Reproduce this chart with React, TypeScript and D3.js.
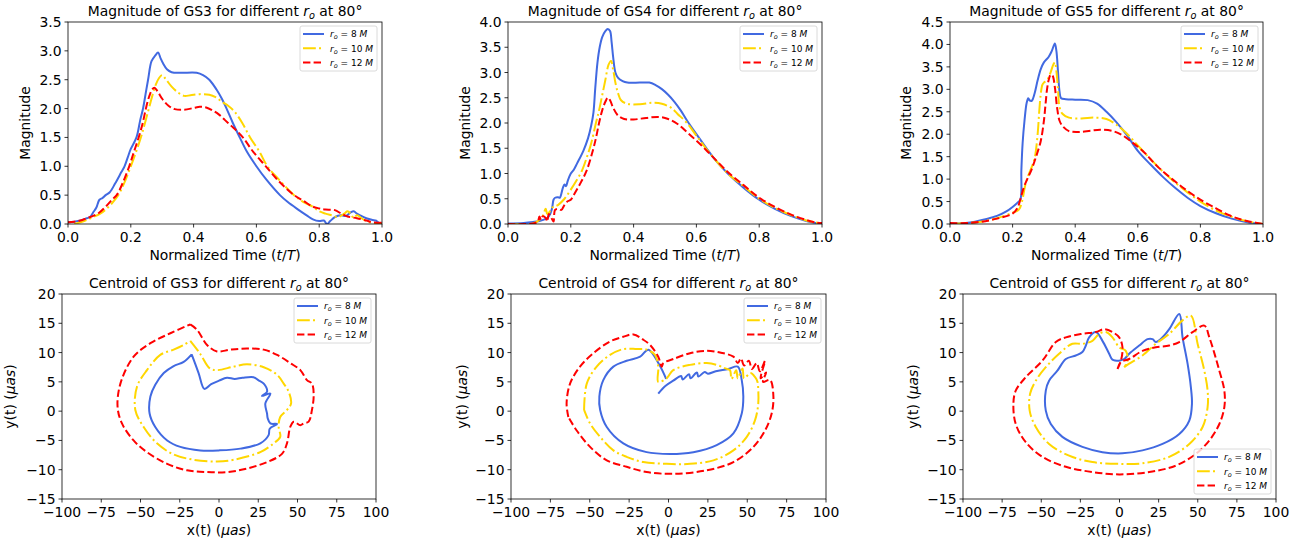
import React from 'react';
import * as d3 from 'd3';

type Pt = [number, number];

// ---------- ticks ----------
const timeTicks = [0, 0.2, 0.4, 0.6, 0.8, 1.0];
const gs3MagTicks = [0, 0.5, 1.0, 1.5, 2.0, 2.5, 3.0, 3.5];
const gs4MagTicks = [0, 0.5, 1.0, 1.5, 2.0, 2.5, 3.0, 3.5, 4.0];
const gs5MagTicks = [0, 0.5, 1.0, 1.5, 2.0, 2.5, 3.0, 3.5, 4.0, 4.5];
const centroidXTicks = [-100, -75, -50, -25, 0, 25, 50, 75, 100];
const centroidYTicks = [-15, -10, -5, 0, 5, 10, 15, 20];
const radii = ['8', '10', '12'];

// ---------- magnitude series [t/T, magnitude] ----------
const gs3Mag8: Pt[] = [[0,0.03],[0.02,0.04],[0.04,0.06],[0.06,0.1],[0.07,0.12],[0.08,0.2],[0.09,0.28],[0.1,0.42],[0.11,0.45],[0.12,0.5],[0.133,0.55],[0.15,0.7],[0.17,0.9],[0.18,1.0],[0.19,1.15],[0.2,1.3],[0.218,1.5],[0.23,1.8],[0.239,2.0],[0.247,2.25],[0.255,2.5],[0.266,2.82],[0.278,2.92],[0.287,2.97],[0.295,2.87],[0.303,2.78],[0.315,2.68],[0.33,2.63],[0.36,2.62],[0.41,2.62],[0.43,2.58],[0.45,2.5],[0.473,2.33],[0.49,2.17],[0.505,2.0],[0.525,1.75],[0.547,1.5],[0.57,1.25],[0.6,1.0],[0.63,0.78],[0.675,0.5],[0.7,0.38],[0.733,0.25],[0.76,0.15],[0.78,0.08],[0.8,0.05],[0.815,0.06],[0.825,0.0],[0.835,0.05],[0.85,0.12],[0.87,0.15],[0.885,0.14],[0.9,0.2],[0.91,0.22],[0.92,0.18],[0.93,0.15],[0.95,0.1],[0.97,0.07],[0.98,0.06],[0.99,0.02],[1.0,0.0]];
const gs3Mag10: Pt[] = [[0.02,0.0],[0.04,0.03],[0.06,0.07],[0.08,0.12],[0.1,0.17],[0.12,0.25],[0.14,0.36],[0.16,0.5],[0.18,0.72],[0.2,1.0],[0.22,1.3],[0.235,1.55],[0.25,1.85],[0.26,2.05],[0.27,2.25],[0.28,2.42],[0.29,2.53],[0.3,2.58],[0.31,2.52],[0.33,2.38],[0.35,2.28],[0.37,2.22],[0.39,2.23],[0.42,2.25],[0.45,2.24],[0.47,2.2],[0.49,2.12],[0.51,2.05],[0.53,1.95],[0.555,1.75],[0.58,1.5],[0.61,1.25],[0.635,1.0],[0.67,0.78],[0.72,0.5],[0.75,0.38],[0.78,0.3],[0.8,0.22],[0.82,0.18],[0.84,0.15],[0.86,0.12],[0.88,0.18],[0.89,0.22],[0.9,0.18],[0.91,0.1],[0.92,0.15],[0.935,0.1],[0.95,0.05],[0.97,0.02],[1.0,0.0]];
const gs3Mag12: Pt[] = [[0,0.03],[0.02,0.04],[0.04,0.06],[0.06,0.1],[0.08,0.14],[0.1,0.2],[0.12,0.3],[0.14,0.42],[0.155,0.5],[0.175,0.72],[0.195,1.0],[0.21,1.25],[0.225,1.5],[0.238,1.75],[0.248,2.0],[0.258,2.2],[0.268,2.33],[0.275,2.36],[0.285,2.3],[0.3,2.17],[0.32,2.05],[0.34,1.99],[0.37,1.98],[0.4,2.01],[0.42,2.03],[0.44,2.02],[0.46,1.97],[0.48,1.9],[0.5,1.8],[0.52,1.7],[0.54,1.6],[0.56,1.48],[0.59,1.25],[0.63,1.0],[0.67,0.75],[0.72,0.5],[0.75,0.4],[0.78,0.3],[0.8,0.27],[0.82,0.25],[0.85,0.24],[0.87,0.18],[0.89,0.13],[0.92,0.1],[0.95,0.06],[0.97,0.03],[1.0,0.02]];

const gs4Mag8: Pt[] = [[0,0.01],[0.05,0.02],[0.08,0.04],[0.1,0.06],[0.12,0.1],[0.13,0.15],[0.14,0.3],[0.145,0.48],[0.15,0.52],[0.16,0.53],[0.165,0.52],[0.175,0.72],[0.18,0.78],[0.185,0.75],[0.19,0.85],[0.2,1.0],[0.21,1.08],[0.22,1.2],[0.24,1.45],[0.255,1.7],[0.265,1.95],[0.272,2.2],[0.278,2.7],[0.285,3.2],[0.292,3.5],[0.3,3.7],[0.31,3.82],[0.318,3.86],[0.325,3.82],[0.33,3.6],[0.335,3.3],[0.342,3.0],[0.35,2.9],[0.365,2.83],[0.38,2.8],[0.42,2.8],[0.45,2.8],[0.47,2.75],[0.49,2.67],[0.51,2.56],[0.53,2.42],[0.55,2.25],[0.57,2.05],[0.6,1.78],[0.63,1.52],[0.66,1.27],[0.7,1.0],[0.75,0.72],[0.8,0.48],[0.85,0.3],[0.9,0.16],[0.95,0.06],[0.98,0.02],[1.0,0.0]];
const gs4Mag10: Pt[] = [[0,0],[0.08,0.01],[0.1,0.08],[0.11,0.15],[0.12,0.3],[0.125,0.2],[0.13,0.22],[0.14,0.32],[0.15,0.35],[0.16,0.38],[0.18,0.5],[0.2,0.68],[0.22,0.88],[0.235,1.05],[0.25,1.3],[0.265,1.6],[0.28,2.0],[0.29,2.25],[0.3,2.55],[0.31,2.85],[0.32,3.15],[0.328,3.23],[0.335,3.05],[0.342,2.8],[0.35,2.6],[0.36,2.45],[0.38,2.38],[0.42,2.37],[0.46,2.4],[0.49,2.38],[0.52,2.3],[0.54,2.18],[0.57,2.0],[0.6,1.75],[0.63,1.5],[0.66,1.27],[0.7,1.0],[0.75,0.75],[0.8,0.5],[0.85,0.32],[0.9,0.18],[0.95,0.07],[0.98,0.03],[1.0,0.0]];
const gs4Mag12: Pt[] = [[0,0],[0.08,0.01],[0.095,0.05],[0.1,0.15],[0.105,0.08],[0.11,0.15],[0.12,0.12],[0.125,0.05],[0.13,0.2],[0.14,0.1],[0.145,0.05],[0.15,0.28],[0.16,0.3],[0.17,0.28],[0.18,0.38],[0.19,0.45],[0.2,0.48],[0.21,0.58],[0.23,0.8],[0.25,1.05],[0.27,1.45],[0.28,1.7],[0.29,2.0],[0.3,2.25],[0.31,2.42],[0.318,2.5],[0.325,2.45],[0.335,2.3],[0.35,2.15],[0.37,2.08],[0.4,2.07],[0.44,2.1],[0.48,2.12],[0.51,2.08],[0.54,1.98],[0.57,1.82],[0.6,1.65],[0.63,1.47],[0.66,1.28],[0.7,1.03],[0.75,0.77],[0.8,0.52],[0.85,0.34],[0.9,0.19],[0.95,0.08],[0.98,0.03],[1.0,0.02]];

const gs5Mag8: Pt[] = [[0,0.01],[0.05,0.02],[0.08,0.05],[0.11,0.1],[0.15,0.18],[0.18,0.28],[0.2,0.38],[0.215,0.47],[0.225,0.55],[0.228,1.2],[0.232,1.8],[0.238,2.3],[0.245,2.7],[0.25,2.8],[0.255,2.75],[0.262,2.75],[0.27,2.9],[0.28,3.2],[0.29,3.45],[0.3,3.6],[0.315,3.72],[0.325,3.85],[0.335,4.02],[0.34,3.85],[0.345,3.4],[0.35,2.95],[0.355,2.8],[0.37,2.78],[0.4,2.77],[0.44,2.76],[0.47,2.68],[0.5,2.5],[0.53,2.28],[0.565,1.98],[0.6,1.63],[0.64,1.33],[0.68,1.05],[0.72,0.8],[0.76,0.58],[0.8,0.4],[0.85,0.24],[0.9,0.12],[0.95,0.04],[1.0,0.0]];
const gs5Mag10: Pt[] = [[0,0],[0.05,0.02],[0.1,0.05],[0.15,0.13],[0.2,0.25],[0.22,0.32],[0.23,0.5],[0.24,0.85],[0.25,1.08],[0.26,1.25],[0.27,1.45],[0.28,2.0],[0.285,2.5],[0.29,2.9],[0.295,3.1],[0.3,3.15],[0.31,3.2],[0.32,3.35],[0.33,3.55],[0.335,3.6],[0.34,3.4],[0.345,3.0],[0.35,2.6],[0.36,2.45],[0.38,2.37],[0.42,2.35],[0.46,2.37],[0.5,2.34],[0.53,2.22],[0.56,2.05],[0.6,1.75],[0.64,1.45],[0.68,1.17],[0.72,0.92],[0.76,0.7],[0.8,0.5],[0.85,0.3],[0.9,0.16],[0.95,0.06],[0.98,0.02],[1.0,0.0]];
const gs5Mag12: Pt[] = [[0,0.02],[0.05,0.02],[0.1,0.05],[0.15,0.12],[0.2,0.23],[0.215,0.35],[0.225,0.55],[0.235,0.8],[0.25,1.05],[0.26,1.2],[0.275,1.5],[0.29,1.85],[0.3,2.3],[0.305,2.65],[0.31,3.0],[0.315,3.2],[0.322,3.33],[0.328,3.3],[0.335,3.05],[0.342,2.6],[0.35,2.3],[0.36,2.18],[0.38,2.07],[0.41,2.05],[0.45,2.08],[0.48,2.1],[0.52,2.07],[0.55,1.98],[0.58,1.83],[0.62,1.6],[0.66,1.3],[0.71,1.0],[0.76,0.73],[0.81,0.5],[0.85,0.35],[0.89,0.2],[0.93,0.1],[0.96,0.05],[1.0,0.0]];

// ---------- centroid tracks [x µas, y µas] ----------
const gs3Cen8: Pt[] = [[-17.4,9.7],[-13,6.5],[-9.3,3.8],[-5,4.6],[0,5.2],[5.1,5.7],[10,5.5],[15,5.7],[22,5.8],[25,5.3],[28.5,4.7],[30.6,3.3],[27.4,2.6],[32.7,3],[29.5,1.3],[30.6,-0.4],[31,-1.2],[32.7,-2.1],[37,-2.2],[32.3,-3],[31.6,-4.1],[26.3,-5.5],[13.6,-6.4],[0,-6.7],[-11.9,-6.7],[-24.6,-6.1],[-33,-5],[-40.6,-2.7],[-44.2,-0.4],[-43.7,2.5],[-40.6,4.5],[-35.2,6.5],[-28.9,7.7],[-22.5,8.4],[-17.4,9.7]];
const gs3Cen10: Pt[] = [[-18.3,12.0],[-12,9.8],[-5.9,7.3],[-1.3,7.0],[9.3,7.6],[17.8,8.0],[28.5,7.5],[37,6.2],[41.2,4.7],[44.4,3.3],[45.9,1.3],[43.3,0.2],[39,-1.0],[38,-2.7],[39,-4.4],[34.8,-5.5],[26.3,-7],[9.3,-8.3],[-1.3,-8.6],[-16.1,-8.3],[-28.9,-7.4],[-39.5,-5.5],[-48,-2.7],[-53.3,0.2],[-52.2,4.2],[-45.9,7.0],[-37.4,9.6],[-28.9,10.5],[-22.5,11.3],[-18.3,12.0]];
const gs3Cen12: Pt[] = [[-18.3,14.8],[-14,13.9],[-7.6,11.3],[-1.3,10.2],[7.2,10.5],[17.8,10.7],[28.5,10.5],[37,9.6],[45.4,8.2],[51.8,7.0],[56,5.3],[59.2,4.7],[60.3,2.7],[59.2,0.2],[57.1,-1.8],[53.9,-2.1],[51.8,-2.4],[47.6,-1.8],[45.4,-2.7],[43.3,-5.5],[40.1,-7.3],[30.6,-8.7],[17.8,-9.8],[5.1,-10.4],[-7.6,-10.4],[-20.4,-10.1],[-33,-9],[-45.9,-7],[-54.4,-5],[-61.8,-2.1],[-64.6,0.7],[-62.8,4.7],[-54.4,9.3],[-43.7,11.6],[-31,13.3],[-18.3,14.8]];

const gs4Cen8: Pt[] = [[-6.5,3.0],[-2,4.3],[3,5.2],[8,6.0],[9,5.4],[13,6.3],[14,5.6],[18,6.6],[19,5.9],[23,6.7],[25,6.4],[30,6.8],[38,7.2],[44,7.6],[46.5,5.3],[47.5,2.5],[46.5,-0.4],[41.2,-3.8],[30.6,-5.8],[15.8,-7.0],[1,-7.3],[-13.9,-7.0],[-28.7,-5.5],[-39.2,-2.7],[-43.4,0.2],[-43.9,2.5],[-41.4,5.3],[-35,7.6],[-26.6,8.6],[-18,9.3],[-12.8,10.5],[-6,8],[-1.5,5.5]];
const gs4Cen10: Pt[] = [[-53.6,0.2],[-51.9,4.7],[-45.6,7.6],[-37.1,9.6],[-28.7,10.6],[-20.2,10.6],[-13.9,10.5],[-8.6,9.6],[-6.5,7.6],[-6.5,5.0],[-1.2,5.6],[3,7.0],[13.7,7.9],[24.3,8.2],[30.6,7.9],[36,7.3],[39,7.0],[40,5.5],[43,7.0],[44,5.6],[47,7.3],[48,5.6],[52,6.5],[55,5.8],[56.5,5.0],[57,3.6],[57,1.3],[55,-1.5],[49.7,-4.4],[41.2,-6.7],[28.5,-8.4],[13.7,-9.0],[-1.2,-9.0],[-16,-8.7],[-26.6,-7.8],[-35,-6.7],[-43.4,-4.4],[-49.8,-2.1],[-53.6,0.2]];
const gs4Cen12: Pt[] = [[-63.6,-1.0],[-64.7,1.3],[-62.5,4.7],[-56.2,7.6],[-47.7,9.9],[-37.1,11.9],[-28.7,12.7],[-22.3,13.1],[-16,12.2],[-11.7,11.3],[-6.5,9.3],[-4.3,7.6],[-3.3,8.2],[3.1,8.9],[13.7,9.9],[24.3,10.3],[32.7,10.0],[41.2,9.3],[44,8.2],[46,9.0],[48,7.8],[51,8.6],[53,7.2],[56,8.2],[58,6.8],[61.3,8.6],[58.5,5.6],[62,6.6],[60,5.0],[64.5,5.3],[66.6,2.5],[65.5,-0.4],[61.3,-3.3],[53.9,-6.1],[41.2,-8.7],[24.3,-10.1],[3.1,-10.7],[-13.9,-10.4],[-26.6,-9.5],[-39.2,-8.4],[-49.8,-6.1],[-58.3,-3.3],[-63.6,-1.0]];

const gs5Cen8: Pt[] = [[-0.2,8.6],[3,8.9],[6.2,9.8],[12.6,11.2],[17.9,12.3],[21.1,12.3],[23.2,11.8],[27.5,12.6],[31.8,14.0],[38.2,16.6],[40.3,12.6],[43.5,8.1],[45.6,4.1],[46.3,1.25],[44.6,-1.6],[38.2,-3.9],[27.5,-5.6],[14.7,-6.7],[1.9,-7.2],[-10.9,-7.0],[-23.7,-6.1],[-36.5,-4.4],[-43.9,-2.2],[-47.1,0.1],[-47.1,3.5],[-45,5.2],[-39.7,6.9],[-34.3,8.9],[-27.9,9.5],[-23.7,10.1],[-21.5,11.2],[-19.4,12.6],[-15.1,13.5],[-10.9,12.0],[-6.6,9.8],[-4.5,8.8],[-0.2,8.6]];
const gs5Cen10: Pt[] = [[3,7.5],[6.2,8.1],[14.7,9.5],[23.2,11.5],[31.8,13.2],[40.3,15.5],[45.6,16.3],[49.9,11.5],[54.2,6.9],[56.3,3.5],[56.3,0.7],[53.1,-2.7],[44.6,-5.6],[31.8,-7.8],[14.7,-8.9],[-0.2,-9.0],[-17.3,-8.7],[-32.2,-7.6],[-45,-5.6],[-53.5,-2.7],[-57.4,0.1],[-57.1,3.0],[-53.5,5.2],[-47.1,7.5],[-38.6,9.8],[-30.1,11.5],[-23.7,11.5],[-17.3,12.0],[-13,13.2],[-8.7,13.5],[-4.5,12.6],[-0.2,10.9],[4,10.3],[5.1,8.6],[3,7.5]];
const gs5Cen12: Pt[] = [[-1.3,7.2],[0.9,8.4],[6.2,8.9],[14.7,10.3],[23.2,10.9],[31.8,11.2],[38.2,11.8],[46.7,13.5],[54.2,14.6],[57.4,12.6],[63.8,6.9],[67,3.5],[67,0.7],[63.8,-2.2],[57.4,-5.0],[48.8,-7.3],[36,-9.3],[19,-10.4],[-0.2,-10.8],[-17.3,-10.4],[-34.3,-9.5],[-49.3,-7.8],[-59.9,-5.3],[-66.3,-2.2],[-67.8,1.25],[-66.3,3.5],[-59.9,5.8],[-49.3,8.6],[-40.7,11.8],[-34.3,12.6],[-23.7,13.2],[-15.1,13.5],[-9.8,14.0],[-4.5,13.5],[-0.2,12.6],[1.9,10.9],[0.9,8.6],[-1.3,7.2]];

// ---------- styles ----------
const COLORS = ['#4169E1', '#FFD700', '#FF0000'];
const DASHES = ['', '12.8,3.2,2,3.2', '7.4,3.2'];
const FONT = 'DejaVu Sans, sans-serif';
const FS = 13.9;

const fmt1 = d3.format('.1f');
const fmtInt = (d: number) => (d < 0 ? '\u2212' + Math.abs(d) : String(d));

type PanelProps = {
  id: string;
  box: { l: number; r: number; t: number; b: number };
  xDomain: [number, number];
  yDomain: [number, number];
  xTicks: number[];
  yTicks: number[];
  fmtX: (d: number) => string;
  fmtY: (d: number) => string;
  kind: string;
  gs: string;
  xLabel: React.ReactNode;
  yLabel: React.ReactNode;
  yLabelOffset: number;
  series: Pt[][];
  legendBottom?: boolean;
};

function Panel(p: PanelProps) {
  const { l, r, t, b } = p.box;
  const xs = d3.scaleLinear().domain(p.xDomain).range([l, r]);
  const ys = d3.scaleLinear().domain(p.yDomain).range([b, t]);
  const line = d3
    .line<Pt>()
    .x((d) => xs(d[0]))
    .y((d) => ys(d[1]))
    .curve(d3.curveCatmullRom.alpha(0.5));
  const lw = 77;
  const lh = 45;
  const lx = r - 5 - lw;
  const ly = p.legendBottom ? b - 5 - lh : t + 4;
  return (
    <g>
      <defs>
        <clipPath id={'clip-' + p.id}>
          <rect x={l} y={t} width={r - l} height={b - t} />
        </clipPath>
      </defs>
      <g clipPath={`url(#clip-${p.id})`}>
        {p.series.map((s, i) => (
          <path
            key={i}
            d={line(s) || ''}
            fill="none"
            stroke={COLORS[i]}
            strokeWidth={2}
            strokeDasharray={DASHES[i] || undefined}
            strokeLinejoin="round"
          />
        ))}
      </g>
      <rect x={l} y={t} width={r - l} height={b - t} fill="none" stroke="#000" strokeWidth={0.8} />
      {p.xTicks.map((v) => (
        <g key={'x' + v}>
          <line x1={xs(v)} x2={xs(v)} y1={b} y2={b + 3.5} stroke="#000" strokeWidth={0.8} />
          <text x={xs(v)} y={b + 17.5} textAnchor="middle" fontSize={FS} fontFamily={FONT}>
            {p.fmtX(v)}
          </text>
        </g>
      ))}
      {p.yTicks.map((v) => (
        <g key={'y' + v}>
          <line x1={l - 3.5} x2={l} y1={ys(v)} y2={ys(v)} stroke="#000" strokeWidth={0.8} />
          <text x={l - 6.5} y={ys(v) + 5} textAnchor="end" fontSize={FS} fontFamily={FONT}>
            {p.fmtY(v)}
          </text>
        </g>
      ))}
      <text x={(l + r) / 2} y={t - 6} textAnchor="middle" fontSize={FS} fontFamily={FONT}>
        {p.kind} of {p.gs} for different <tspan fontStyle="italic">r</tspan>
        <tspan fontStyle="italic" fontSize={FS * 0.7} dy={3}>
          o
        </tspan>
        <tspan dy={-3}> at 80°</tspan>
      </text>
      <text x={(l + r) / 2} y={b + 36} textAnchor="middle" fontSize={FS} fontFamily={FONT}>
        {p.xLabel}
      </text>
      <text
        transform={`translate(${l - p.yLabelOffset},${(t + b) / 2}) rotate(-90)`}
        textAnchor="middle"
        fontSize={FS}
        fontFamily={FONT}
      >
        {p.yLabel}
      </text>
      <g>
        <rect x={lx} y={ly} width={lw} height={lh} rx={2} fill="#fff" fillOpacity={0.8} stroke="#d0d0d0" strokeWidth={0.8} />
        {radii.map((rv, i) => {
          const cy = ly + 8 + i * 14.3;
          return (
            <g key={rv}>
              <line x1={lx + 3} x2={lx + 24} y1={cy} y2={cy} stroke={COLORS[i]} strokeWidth={2} strokeDasharray={DASHES[i] || undefined} />
              <text x={lx + 30} y={cy + 3.2} fontSize={9} fontFamily={FONT}>
                <tspan fontStyle="italic">r</tspan>
                <tspan fontStyle="italic" fontSize={6.5} dy={2}>
                  o
                </tspan>
                <tspan dy={-2}>{` = ${rv} `}</tspan>
                <tspan fontStyle="italic">M</tspan>
              </text>
            </g>
          );
        })}
      </g>
    </g>
  );
}

const timeLabel = (
  <>
    Normalized Time (<tspan fontStyle="italic">t</tspan>/<tspan fontStyle="italic">T</tspan>)
  </>
);
const xCenLabel = (
  <>
    x(t) (<tspan fontStyle="italic">μas</tspan>)
  </>
);
const yCenLabel = (
  <>
    y(t) (<tspan fontStyle="italic">μas</tspan>)
  </>
);

export default function App() {
  const topBoxes = [
    { l: 68, r: 382, t: 22, b: 224 },
    { l: 508, r: 822, t: 22, b: 224 },
    { l: 950, r: 1263, t: 22, b: 224 },
  ];
  const botBoxes = [
    { l: 62, r: 376, t: 294, b: 499 },
    { l: 511, r: 826, t: 294, b: 499 },
    { l: 963, r: 1276, t: 294, b: 499 },
  ];
  const magSets = [
    { gs: 'GS3', ticks: gs3MagTicks, series: [gs3Mag8, gs3Mag10, gs3Mag12] },
    { gs: 'GS4', ticks: gs4MagTicks, series: [gs4Mag8, gs4Mag10, gs4Mag12] },
    { gs: 'GS5', ticks: gs5MagTicks, series: [gs5Mag8, gs5Mag10, gs5Mag12] },
  ];
  const cenSets = [
    { gs: 'GS3', series: [gs3Cen8, gs3Cen10, gs3Cen12], off: 47 },
    { gs: 'GS4', series: [gs4Cen8, gs4Cen10, gs4Cen12], off: 44 },
    { gs: 'GS5', series: [gs5Cen8, gs5Cen10, gs5Cen12], off: 45 },
  ];
  return (
    <svg
      width={1316}
      height={540}
      style={{ position: 'absolute', left: 0, top: 0, background: '#fff' }}
    >
      {magSets.map((m, i) => (
        <Panel
          key={'m' + i}
          id={'m' + i}
          box={topBoxes[i]}
          xDomain={[0, 1]}
          yDomain={[0, m.ticks[m.ticks.length - 1]]}
          xTicks={timeTicks}
          yTicks={m.ticks}
          fmtX={fmt1}
          fmtY={fmt1}
          kind="Magnitude"
          gs={m.gs}
          xLabel={timeLabel}
          yLabel="Magnitude"
          yLabelOffset={i === 2 ? 39 : 38}
          series={m.series}
        />
      ))}
      {cenSets.map((c, i) => (
        <Panel
          key={'c' + i}
          id={'c' + i}
          box={botBoxes[i]}
          xDomain={[-100, 100]}
          yDomain={[-15, 20]}
          xTicks={centroidXTicks}
          yTicks={centroidYTicks}
          fmtX={fmtInt}
          fmtY={fmtInt}
          kind="Centroid"
          gs={c.gs}
          xLabel={xCenLabel}
          yLabel={yCenLabel}
          yLabelOffset={c.off}
          series={c.series}
          legendBottom={i === 2}
        />
      ))}
    </svg>
  );
}
